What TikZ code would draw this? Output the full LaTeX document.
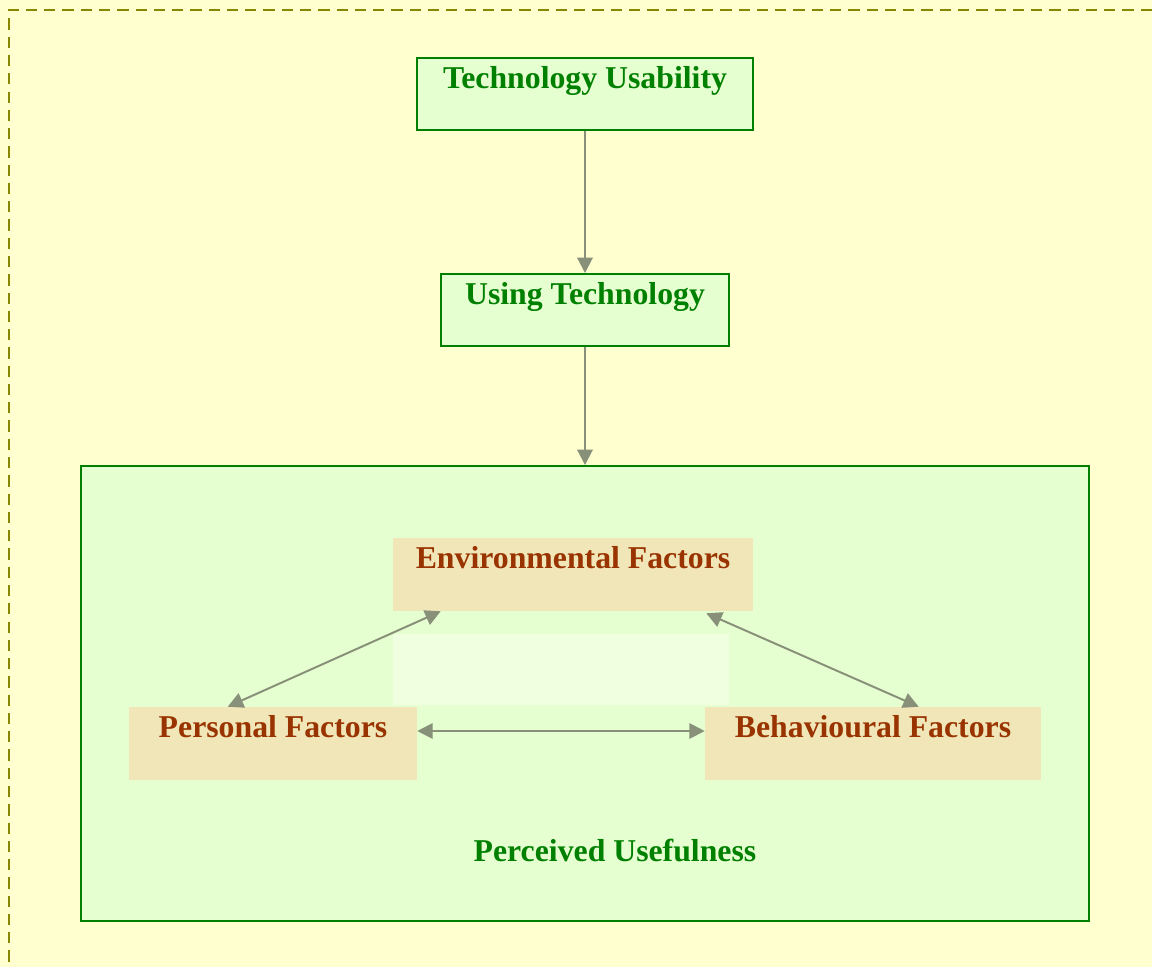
\documentclass[tikz,border=0pt]{standalone}
\usepackage{fontspec}
\setmainfont{Liberation Serif}
\usetikzlibrary{arrows.meta,calc}

\definecolor{pagebg}{RGB}{255,255,208}
\definecolor{frameol}{RGB}{136,136,0}
\definecolor{boxfill}{RGB}{230,255,208}
\definecolor{boxline}{RGB}{0,128,0}
\definecolor{factfill}{RGB}{240,230,184}
\definecolor{factext}{RGB}{153,51,0}
\definecolor{palefill}{RGB}{240,255,224}
\definecolor{arrowcol}{RGB}{136,144,122}

\tikzset{
	gbox/.style={draw=boxline, fill=boxfill, line width=1.4pt, inner sep=0pt},
	fbox/.style={fill=factfill, inner sep=0pt, minimum height=1.825cm},
	gtext/.style={text=boxline, font=\fontsize{22.6}{27}\selectfont\bfseries, anchor=base, inner sep=0pt},
	ftext/.style={text=factext, font=\fontsize{22.6}{27}\selectfont\bfseries, anchor=base, inner sep=0pt},
	flow/.style={draw=arrowcol, line width=1.4pt, -{Triangle[length=11pt,width=11pt]}},
	link/.style={draw=arrowcol, line width=1.4pt, {Triangle[length=11pt,width=11pt]}-{Triangle[length=11pt,width=11pt]}},
}

\begin{document}
\begin{tikzpicture}
	\useasboundingbox (0, 0) rectangle (28.8, -24.175);
	\fill[pagebg] (0, 0) rectangle (28.8, -24.175);
	\begin{scope}
		\clip (0, 0) rectangle (28.8, -24.175);
		\draw[frameol, line width=1.3pt, dash pattern=on 8pt off 5pt] (0.225, -24.5) -- (0.225, -0.25) -- (29.2, -0.25);
	\end{scope}

	% top chain
	\node[gbox, minimum width=8.4cm, minimum height=1.8cm] (usab) at (14.625, -2.35) {};
	\node[gtext] (usabtxt) at ($(usab.north)+(0, -0.775)$) {Technology Usability};
	\node[gbox, minimum width=7.2cm, minimum height=1.8cm] (using) at (14.625, -7.75) {};
	\node[gtext] (usingtxt) at ($(using.north)+(0, -0.775)$) {Using Technology};

	% perceived usefulness frame
	\node[gbox, minimum width=25.2cm, minimum height=11.375cm] (useful) at (14.625, -17.3375) {};
	\node[gtext] (usefultxt) at (15.375, -21.525) {Perceived Usefulness};

	\draw[flow] (usab.south) -- (using.north);
	\draw[flow] (using.south) -- (useful.north);

	% the three factors
	\node[fbox, minimum width=9cm] (env) at (14.325, -14.3625) {};
	\node[fill=palefill, inner sep=0pt, minimum width=8.4cm, minimum height=1.775cm] (gap) at (14.025, -16.7375) {};
	\node[fbox, minimum width=7.2cm] (pers) at (6.825, -18.5875) {};
	\node[fbox, minimum width=8.4cm] (behav) at (21.825, -18.5875) {};

	\node[ftext] (envtxt) at ($(env.north)+(0, -0.775)$) {Environmental Factors};
	\node[ftext] (perstxt) at ($(pers.north)+(0, -0.775)$) {Personal Factors};
	\node[ftext] (behavtxt) at ($(behav.north)+(0, -0.775)$) {Behavioural Factors};

	\draw[link] ($(pers.north west)+(2.475, 0)$) -- ($(env.south west)+(1.2, 0)$);
	\draw[link] ($(behav.north west)+(5.35, 0)$) -- ($(env.south east)+(-1.175, -0.05)$);
	\draw[link] ($(pers.east)+(0, 0.3125)$) -- ($(behav.west)+(0, 0.3125)$);
\end{tikzpicture}
\end{document}
